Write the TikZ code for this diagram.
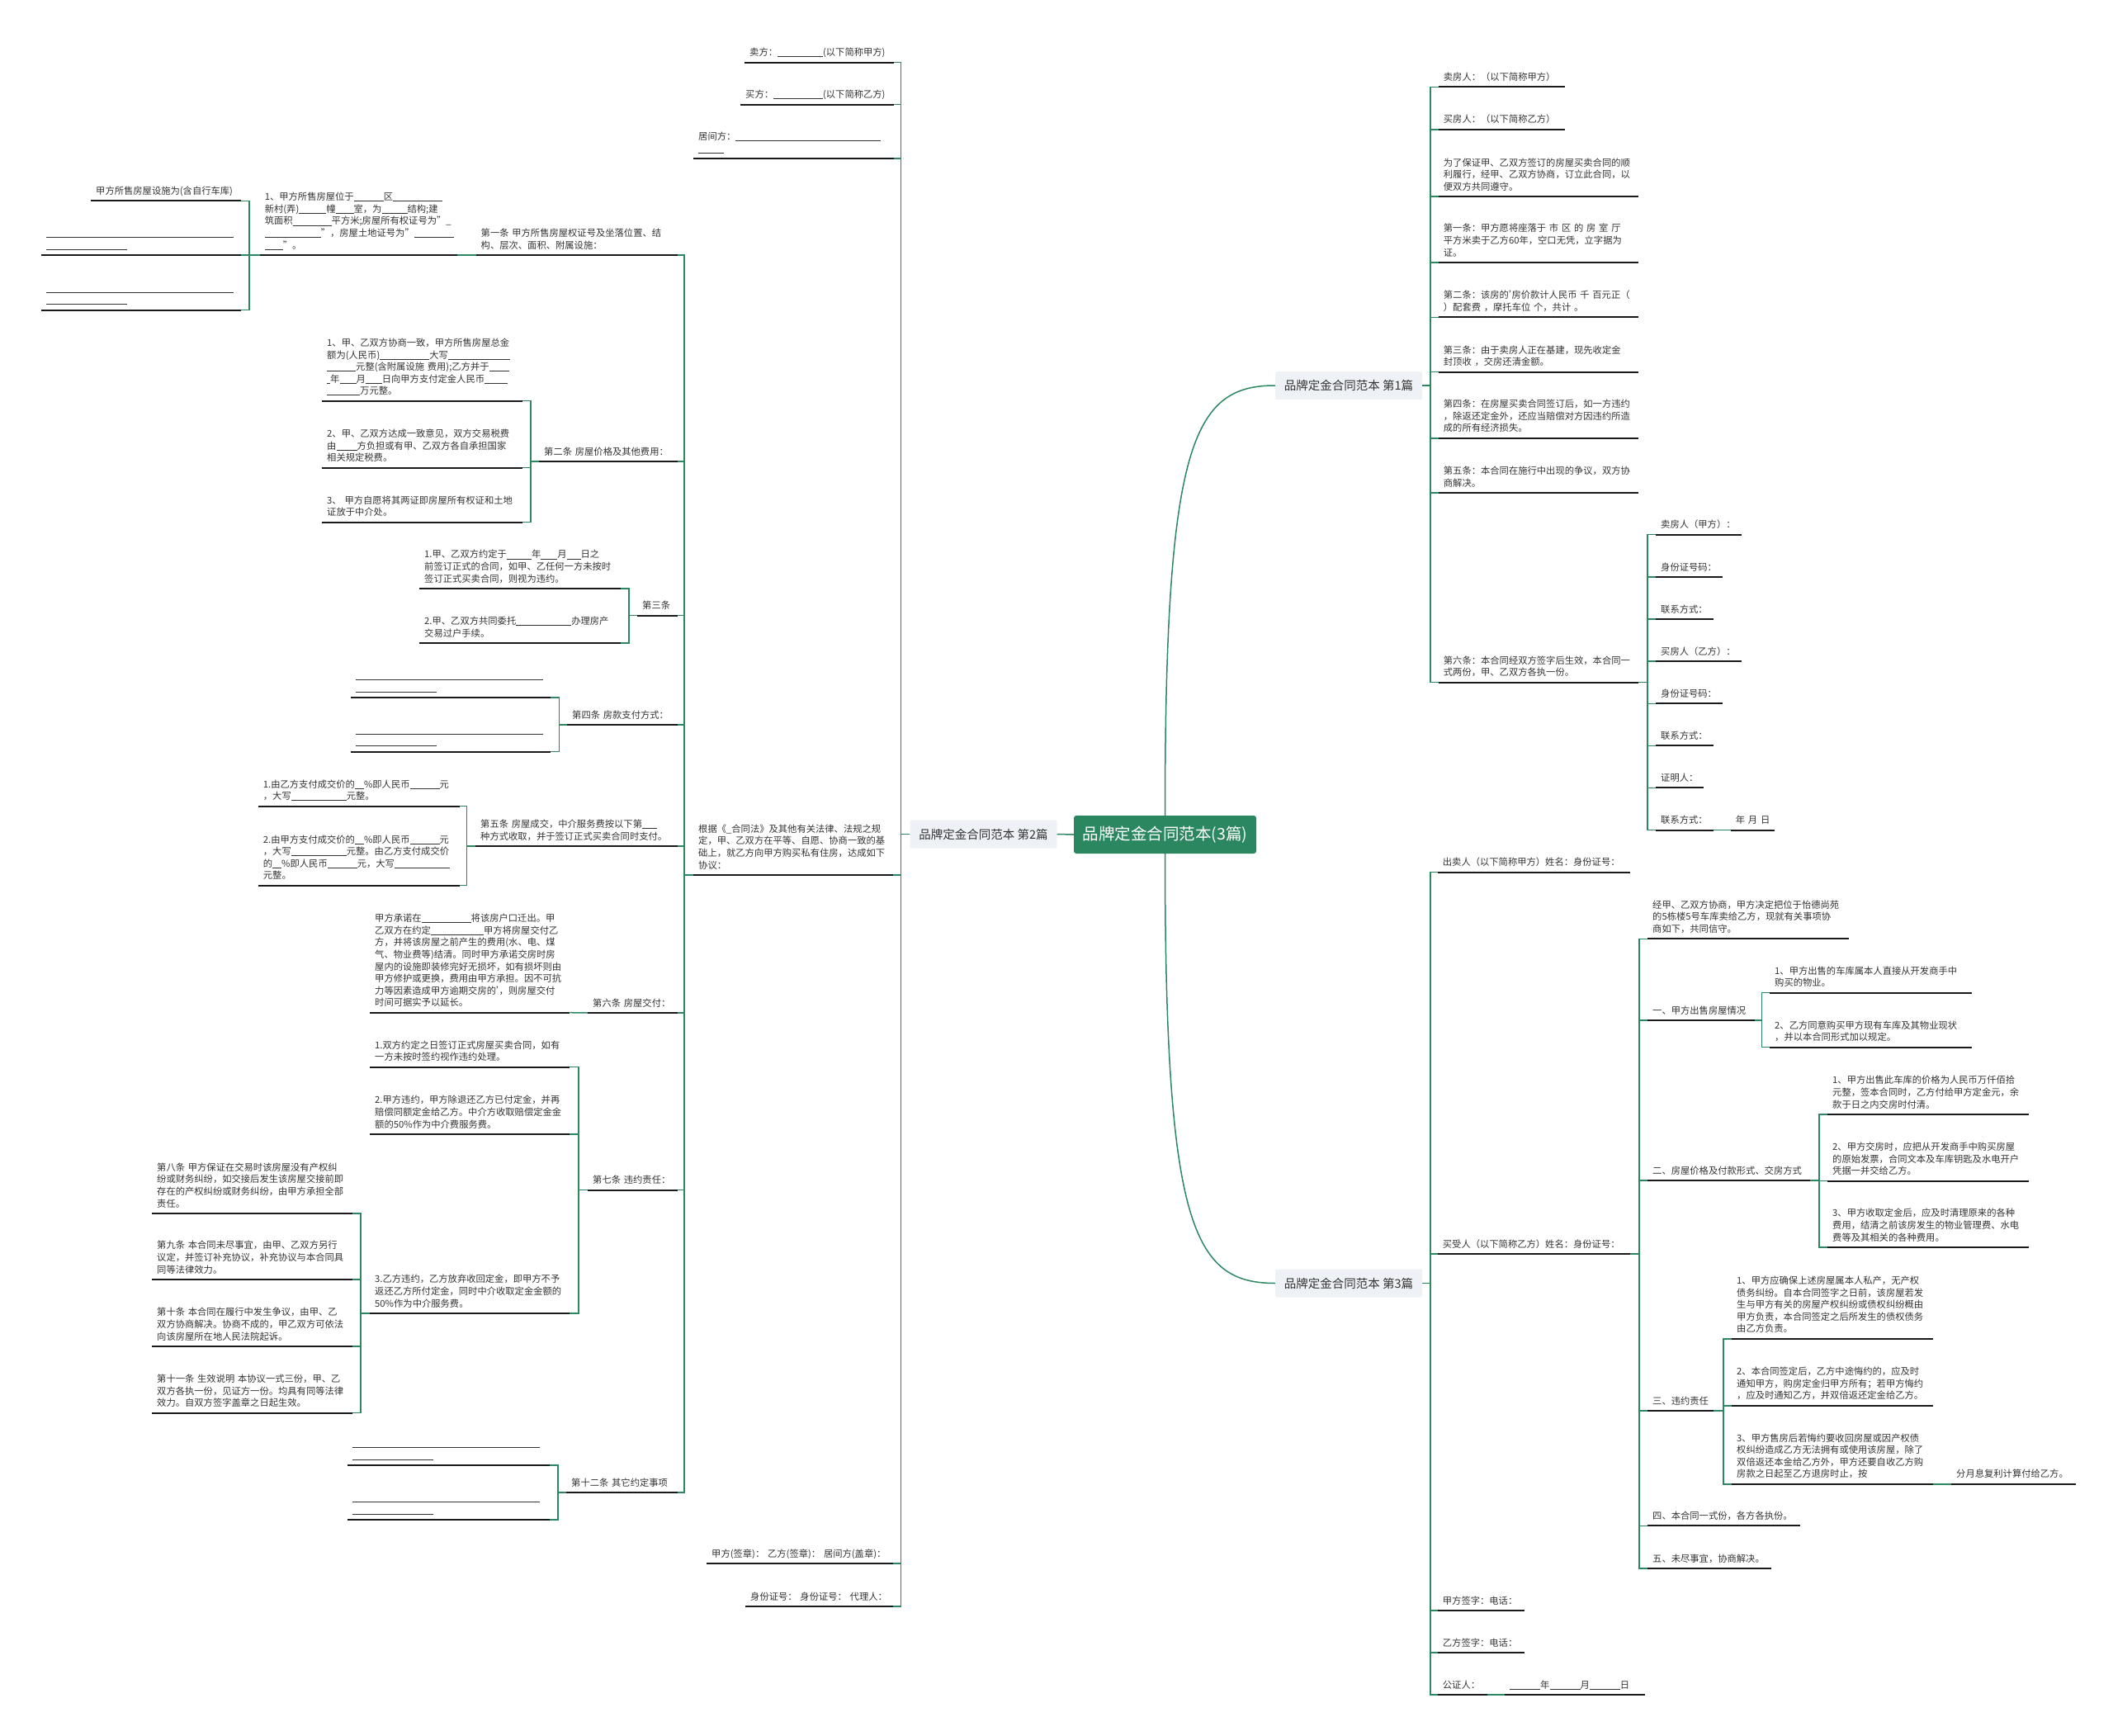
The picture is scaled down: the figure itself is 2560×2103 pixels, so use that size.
\documentclass[tikz,border=0pt]{standalone}
\usepackage{fontspec}
\setmainfont{Noto Sans CJK SC}
\definecolor{mapgreen}{RGB}{43,135,96}
\definecolor{boxgrey}{RGB}{238,241,245}
\definecolor{textgrey}{RGB}{51,51,51}
% blank to fill in
\newcommand\fb[1]{\rule[-1.2pt]{#1pt}{0.6pt}}
% narrow apostrophe
\newcommand\apos{\makebox[3.5pt][l]{’}}

\begin{document}
\begin{tikzpicture}[x=1pt,y=-1pt,
    leaf/.style={anchor=south west,
                 align=left,
                 inner xsep=6pt,
                 inner ysep=3.3pt,
                 text=textgrey,
                 execute at end node=\strut,
                 font=\fontsize{11.3}{14.6}\selectfont},
    rootnode/.style={rectangle,
                 rounded corners=3pt,
                 fill=mapgreen,
                 text=white,
                 minimum width=221pt,
                 minimum height=46pt,
                 font=\fontsize{19.5}{22}\selectfont},
    branchnode/.style={rectangle,
                 rounded corners=2pt,
                 fill=boxgrey,
                 text=textgrey,
                 minimum width=178pt,
                 minimum height=34pt,
                 font=\fontsize{14.5}{17}\selectfont},
    link/.style={draw=mapgreen, line width=1.5pt},
    uline/.style={draw=black!90, line width=2pt}
    ]

\useasboundingbox (0,0) rectangle (2560,2103);

%main nodes
\node[rootnode] (root) at (1411.5,1011) {品牌定金合同范本(3篇)};
\node[branchnode] (b2) at (1191.5,1010.5) {品牌定金合同范本 第2篇};
\node[branchnode] (b1) at (1634,467) {品牌定金合同范本 第1篇};
\node[branchnode] (b3) at (1634,1554.5) {品牌定金合同范本 第3篇};

% second contract (left side)
\node[leaf, text width=169pt] (sell) at (902,75.7) {卖方：\fb{55}(以下简称甲方)};
\node[leaf, text width=174pt] (buy) at (897,126.7) {买方：\fb{60}(以下简称乙方)};
\node[leaf, text width=231pt] (mid) at (840,192) {居间方：\fb{176}\\\fb{31}};
\node[leaf, text width=230pt] (basis) at (840,1060) {根据《\_合同法》及其他有关法律、法规之规\\定，甲、乙双方在平等、自愿、协商一致的基\\础上，就乙方向甲方购买私有住房，达成如下\\协议：};
\node[leaf, text width=214pt] (sign1) at (856,1894) {甲方(签章)： 乙方(签章)： 居间方(盖章)：};
\node[leaf, text width=167pt] (sign2) at (903,1946) {身份证号： 身份证号： 代理人：};

\node[leaf, text width=232pt] (a1) at (576.5,309) {第一条 甲方所售房屋权证号及坐落位置、结\\构、层次、面积、附属设施：};
\node[leaf, text width=156pt] (a2) at (653,559) {第二条 房屋价格及其他费用：};
\node[leaf, text width=37pt] (a3) at (772,745.7) {第三条};
\node[leaf, text width=122pt] (a4) at (687,878) {第四条 房款支付方式：};
\node[leaf, text width=233pt] (a5) at (576,1025) {第五条 房屋成交，中介服务费按以下第\fb{18}\\种方式收取，并于签订正式买卖合同时支付。};
\node[leaf, text width=97pt] (a6) at (712,1227) {第六条 房屋交付：};
\node[leaf, text width=97pt] (a7) at (712,1441.7) {第七条 违约责任：};
\node[leaf, text width=123pt] (a12) at (686,1808) {第十二条 其它约定事项};

\node[leaf, text width=227.4pt] (p1) at (314.6,309) {1、甲方所售房屋位于\fb{36}区\fb{60}\\新村(弄)\fb{33}幢\fb{22}室，为\fb{31}结构;建\\筑面积\fb{47}平方米;房屋所有权证号为"\_\\\fb{68}"，房屋土地证号为"\fb{48}\\\fb{22}"。};
\node[leaf, text width=170pt] (q1) at (110,243.3) {甲方所售房屋设施为(含自行车库)};
\node[leaf, text width=230pt] (q2) at (50,309) {\fb{227}\\\fb{98}};
\node[leaf, text width=230pt] (q3) at (50,375.7) {\fb{227}\\\fb{98}};

\node[leaf, text width=231pt] (r1) at (390,485.7) {1、甲、乙双方协商一致，甲方所售房屋总金\\额为(人民币)\fb{60}大写\fb{75}\\\fb{35}元整(含附属设施 费用);乙方并于\fb{24}\\\fb{4}年\fb{20}月\fb{20}日向甲方支付定金人民币\fb{28}\\\fb{40}万元整。};
\node[leaf, text width=231pt] (r2) at (390,566.7) {2、甲、乙双方达成一致意见，双方交易税费\\由\fb{25}方负担或有甲、乙双方各自承担国家\\相关规定税费。};
\node[leaf, text width=231pt] (r3) at (390,632.7) {3、 甲方自愿将其两证即房屋所有权证和土地\\证放于中介处。};

\node[leaf, text width=232pt] (s1) at (508,713) {1.甲、乙双方约定于\fb{30}年\fb{20}月\fb{17}日之\\前签订正式的合同，如甲、乙任何一方未按时\\签订正式买卖合同，则视为违约。};
\node[leaf, text width=232pt] (s2) at (508,779) {2.甲、乙双方共同委托\fb{67}办理房产\\交易过户手续。};

\node[leaf, text width=230pt] (t1) at (425,845) {\fb{227}\\\fb{98}};
\node[leaf, text width=230pt] (t2) at (425,910.7) {\fb{227}\\\fb{98}};

\node[leaf, text width=232pt] (u1) at (312.7,976.7) {1.由乙方支付成交价的\fb{11}\%即人民币\fb{36}元\\，大写\fb{67}元整。};
\node[leaf, text width=232pt] (u2) at (312.7,1072.7) {2.由甲方支付成交价的\fb{11}\%即人民币\fb{36}元\\，大写\fb{67}元整。由乙方支付成交价\\的\fb{11}\%即人民币\fb{36}元，大写\fb{67}\\元整。};

\node[leaf, text width=230pt] (v1) at (448,1226.7) {甲方承诺在\fb{60}将该房户口迁出。甲\\乙双方在约定\fb{64}甲方将房屋交付乙\\方，并将该房屋之前产生的费用(水、电、煤\\气、物业费等)结清。同时甲方承诺交房时房\\屋内的设施即装修完好无损坏，如有损坏则由\\甲方修护或更换，费用由甲方承担。因不可抗\\力等因素造成甲方逾期交房的\apos，则房屋交付\\时间可据实予以延长。};

\node[leaf, text width=230pt] (w1) at (448,1292.7) {1.双方约定之日签订正式房屋买卖合同，如有\\一方未按时签约视作违约处理。};
\node[leaf, text width=230pt] (w2) at (448,1374) {2.甲方违约，甲方除退还乙方已付定金，并再\\赔偿同额定金给乙方。中介方收取赔偿定金金\\额的50\%作为中介费服务费。};
\node[leaf, text width=230pt] (w3) at (448,1591) {3.乙方违约，乙方放弃收回定金，即甲方不予\\返还乙方所付定金，同时中介收取定金金额的\\50\%作为中介服务费。};

\node[leaf, text width=230.7pt] (x8) at (184,1470) {第八条 甲方保证在交易时该房屋没有产权纠\\纷或财务纠纷，如交接后发生该房屋交接前即\\存在的产权纠纷或财务纠纷，由甲方承担全部\\责任。};
\node[leaf, text width=230.7pt] (x9) at (184,1550) {第九条 本合同未尽事宜，由甲、乙双方另行\\议定，并签订补充协议，补充协议与本合同具\\同等法律效力。};
\node[leaf, text width=230.7pt] (x10) at (184,1631) {第十条 本合同在履行中发生争议，由甲、乙\\双方协商解决。协商不成的，甲乙双方可依法\\向该房屋所在地人民法院起诉。};
\node[leaf, text width=230.7pt] (x11) at (184,1711.7) {第十一条 生效说明 本协议一式三份，甲、乙\\双方各执一份，见证方一份。均具有同等法律\\效力。自双方签字盖章之日起生效。};

\node[leaf, text width=233pt] (y1) at (421,1775) {\fb{227}\\\fb{98}};
\node[leaf, text width=233pt] (y2) at (421,1841) {\fb{227}\\\fb{98}};

% first contract (right, top)
\node[leaf, text width=141pt] (c1) at (1742.7,105.5) {卖房人：（以下简称甲方）};
\node[leaf, text width=141pt] (c2) at (1742.7,156.8) {买房人：（以下简称乙方）};
\node[leaf, text width=230.3pt] (c3) at (1742.7,238.1) {为了保证甲、乙双方签订的房屋买卖合同的顺\\利履行，经甲、乙双方协商，订立此合同，以\\便双方共同遵守。};
\node[leaf, text width=230.3pt] (c4) at (1742.7,318) {第一条：甲方愿将座落于~市~区~的~房~室~厅\\平方米卖于乙方60年，空口无凭，立字据为\\证。};
\node[leaf, text width=230.3pt] (c5) at (1742.7,384.4) {第二条：该房的\apos 房价款计人民币~千~百元正（\\）配套费~，摩托车位~个，共计~。};
\node[leaf, text width=230.3pt] (c6) at (1742.7,450.6) {第三条：由于卖房人正在基建，现先收定金\\封顶收~，交房还清金额。};
\node[leaf, text width=230.3pt] (c7) at (1742.7,530.8) {第四条：在房屋买卖合同签订后，如一方违约\\，除返还定金外，还应当赔偿对方因违约所造\\成的所有经济损失。};
\node[leaf, text width=230.3pt] (c8) at (1742.7,597) {第五条：本合同在施行中出现的争议，双方协\\商解决。};
\node[leaf, text width=230.3pt] (c9) at (1742.7,826.7) {第六条：本合同经双方签字后生效，本合同一\\式两份，甲、乙双方各执一份。};

\node[leaf, text width=92pt] (d1) at (2006,647.7) {卖房人（甲方）：};
\node[leaf, text width=69pt] (d2) at (2006,699) {身份证号码：};
\node[leaf, text width=57.7pt] (d3) at (2006,750) {联系方式：};
\node[leaf, text width=92pt] (d4) at (2006,801) {买房人（乙方）：};
\node[leaf, text width=69pt] (d5) at (2006,852.3) {身份证号码：};
\node[leaf, text width=57.7pt] (d6) at (2006,903.3) {联系方式：};
\node[leaf, text width=45.2pt] (d7) at (2006,954.3) {证明人：};
\node[leaf, text width=57.7pt] (d8) at (2006,1005.7) {联系方式：};
\node[leaf, text width=41.3pt] (e1) at (2096.7,1005.7) {年~月~日};

% third contract (right, bottom)
\node[leaf, text width=221pt] (f1) at (1741.7,1056.7) {出卖人（以下简称甲方）姓名：身份证号：};
\node[leaf, text width=221pt] (f2) at (1741.7,1519) {买受人（以下简称乙方）姓名：身份证号：};
\node[leaf, text width=93.3pt] (f3) at (1741.7,1950.9) {甲方签字：电话：};
\node[leaf, text width=93.3pt] (f4) at (1741.7,2002) {乙方签字：电话：};
\node[leaf, text width=48pt] (f5) at (1741.7,2053) {公证人：};
\node[leaf, text width=158pt] (g1) at (1823,2053) {\fb{37}年\fb{37}月\fb{37}日};

\node[leaf, text width=231.6pt] (h0) at (1996,1137.3) {经甲、乙双方协商，甲方决定把位于怡德尚苑\\的5栋楼5号车库卖给乙方，现就有关事项协\\商如下，共同信守。};
\node[leaf, text width=118pt] (h1) at (1996,1236) {一、甲方出售房屋情况};
\node[leaf, text width=185pt] (h2) at (1996,1430) {二、房屋价格及付款形式、交房方式};
\node[leaf, text width=67.8pt] (h3) at (1996,1709.2) {三、违约责任};
\node[leaf, text width=173pt] (h4) at (1996,1848.4) {四、本合同一式份，各方各执份。};
\node[leaf, text width=138pt] (h5) at (1996,1900.2) {五、未尽事宜，协商解决。};

\node[leaf, text width=232.6pt] (k1) at (2144,1202.7) {1、甲方出售的车库属本人直接从开发商手中\\购买的物业。};
\node[leaf, text width=232.6pt] (k2) at (2144,1268.7) {2、乙方同意购买甲方现有车库及其物业现状\\，并以本合同形式加以规定。};

\node[leaf, text width=231.8pt] (m1) at (2214,1350) {1、甲方出售此车库的价格为人民币万仟佰拾\\元整，签本合同时，乙方付给甲方定金元，余\\款于日之内交房时付清。};
\node[leaf, text width=231.8pt] (m2) at (2214,1430.7) {2、甲方交房时，应把从开发商手中购买房屋\\的原始发票，合同文本及车库钥匙及水电开户\\凭据一并交给乙方。};
\node[leaf, text width=231.8pt] (m3) at (2214,1511) {3、甲方收取定金后，应及时清理原来的各种\\费用，结清之前该房发生的物业管理费、水电\\费等及其相关的各种费用。};

\node[leaf, text width=231.9pt] (n1) at (2098,1621.8) {1、甲方应确保上述房屋属本人私产，无产权\\债务纠纷。自本合同签字之日前，该房屋若发\\生与甲方有关的房屋产权纠纷或债权纠纷概由\\甲方负责，本合同签定之后所发生的债权债务\\由乙方负责。};
\node[leaf, text width=231.9pt] (n2) at (2098,1702.8) {2、本合同签定后，乙方中途悔约的，应及时\\通知甲方，购房定金归甲方所有；若甲方悔约\\，应及时通知乙方，并双倍返还定金给乙方。};
\node[leaf, text width=231.9pt] (n3) at (2098,1797.8) {3、甲方售房后若悔约要收回房屋或因产权债\\权纠纷造成乙方无法拥有或使用该房屋，除了\\双倍返还本金给乙方外，甲方还要自收乙方购\\房款之日起至乙方退房时止，按};
\node[leaf, text width=139pt] (o1) at (2364,1797.8) {分月息复利计算付给乙方。};

% Connectors
\draw[link] (root.west) -- (b2.east);
\draw[link] (root.north) .. controls +(0,-450) and +(-100,0) .. (b1.west);
\draw[link] (root.south) .. controls +(0,450) and +(-100,0) .. (b3.west);

\foreach \c in {sell,buy,mid,basis,sign1,sign2}
  \draw[link] (b2.west) -- ++(-11,0) |- (\c.south east);
\foreach \c in {a1,a2,a3,a4,a5,a6,a7,a12}
  \draw[link] (basis.south west) -- ++(-11,0) |- (\c.south east);
\draw[link] (a1.south west) -- (p1.south east);
\foreach \c in {q1,q2,q3}
  \draw[link] (p1.south west) -- ++(-12.6,0) |- (\c.south east);
\foreach \c in {r1,r2,r3}
  \draw[link] (a2.south west) -- ++(-10,0) |- (\c.south east);
\foreach \c in {s1,s2}
  \draw[link] (a3.south west) -- ++(-10,0) |- (\c.south east);
\foreach \c in {t1,t2}
  \draw[link] (a4.south west) -- ++(-9.3,0) |- (\c.south east);
\foreach \c in {u1,u2}
  \draw[link] (a5.south west) -- ++(-10.3,0) |- (\c.south east);
\draw[link] (a6.south west) -- (v1.south east);
\foreach \c in {w1,w2,w3}
  \draw[link] (a7.south west) -- ++(-11,0) |- (\c.south east);
\foreach \c in {x8,x9,x10,x11}
  \draw[link] (w3.south west) -- ++(-11,0) |- (\c.south east);
\foreach \c in {y1,y2}
  \draw[link] (a12.south west) -- ++(-10,0) |- (\c.south east);

\foreach \c in {c1,c2,c3,c4,c5,c6,c7,c8,c9}
  \draw[link] (b1.east) -- ++(9.7,0) |- (\c.south west);
\foreach \c in {d1,d2,d3,d4,d5,d6,d7,d8}
  \draw[link] (c9.south east) -- ++(10.7,0) |- (\c.south west);
\draw[link] (d8.south east) -- (e1.south west);

\foreach \c in {f1,f2,f3,f4,f5}
  \draw[link] (b3.east) -- ++(9.7,0) |- (\c.south west);
\draw[link] (f5.south east) -- (g1.south west);
\foreach \c in {h0,h1,h2,h3,h4,h5}
  \draw[link] (f2.south east) -- ++(10.7,0) |- (\c.south west);
\foreach \c in {k1,k2}
  \draw[link] (h1.south east) -- ++(8.3,0) |- (\c.south west);
\foreach \c in {m1,m2,m3}
  \draw[link] (h2.south east) -- ++(10.5,0) |- (\c.south west);
\foreach \c in {n1,n2,n3}
  \draw[link] (h3.south east) -- ++(11.8,0) |- (\c.south west);
\draw[link] (n3.south east) -- (o1.south west);

% underlines
\foreach \n in {sell,buy,mid,basis,sign1,sign2,a1,a2,a3,a4,a5,a6,a7,a12,
    p1,q1,q2,q3,r1,r2,r3,s1,s2,t1,t2,u1,u2,v1,w1,w2,w3,x8,x9,x10,x11,y1,y2,
    c1,c2,c3,c4,c5,c6,c7,c8,c9,d1,d2,d3,d4,d5,d6,d7,d8,e1,
    f1,f2,f3,f4,f5,g1,h0,h1,h2,h3,h4,h5,k1,k2,m1,m2,m3,n1,n2,n3,o1}
  \draw[uline] (\n.south west) -- (\n.south east);

\end{tikzpicture}
\end{document}
